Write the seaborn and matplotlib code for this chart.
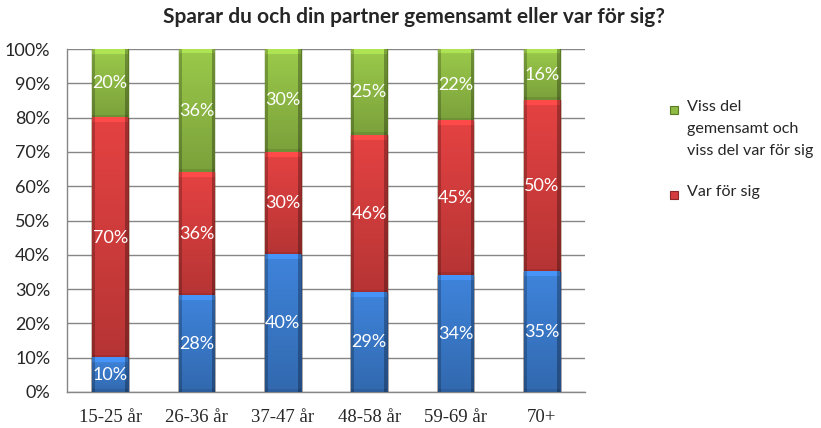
import matplotlib
matplotlib.use('Agg')
import matplotlib.pyplot as plt
import matplotlib.patches as mpatches
import matplotlib.colors as mcolors
import numpy as np
import pandas as pd
import seaborn as sns

# Data (shares, per age group)
age_groups = ['15-25 år', '26-36 år', '37-47 år', '48-58 år', '59-69 år', '70+']
gemensamt = [10, 28, 40, 29, 34, 35]
var_for_sig = [70, 36, 30, 46, 45, 50]
viss_del = [20, 36, 30, 25, 22, 16]

series_names = ['Gemensamt', 'Var för sig',
                'Viss del\ngemensamt och\nviss del var för sig']
colors = ['#3a7acb', '#d43d3d', '#8fbb45']
edge_colors = ['#244f8c', '#8c2626', '#5a7a24']

df = pd.DataFrame({'age': age_groups,
                   'g': gemensamt, 'v': var_for_sig, 'd': viss_del})
df['c1'] = df['g']
df['c2'] = df['g'] + df['v']
df['c3'] = df['c2'] + df['d']

sns.set_style('white')
plt.rcParams['font.family'] = ['Lato', 'DejaVu Sans']

W, H = 821, 428
fig = plt.figure(figsize=(W / 100, H / 100), dpi=100)
ax = fig.add_axes([67 / W, 1 - 392 / H, (585 - 67) / W, (392 - 49) / H])

layers = [('c3', 2), ('c2', 1), ('c1', 0)]
# draw stacked bars from the top layer down
for col, k in layers:
    sns.barplot(data=df, x='age', y=col, color=colors[k], width=0.41,
                saturation=1, edgecolor=edge_colors[k], linewidth=1,
                ax=ax, zorder=3)


def shade(color, height_units, px_per_unit=3.43):
    # simple bevel look: lighter top, darker bottom and sides
    ny = max(int(height_units * px_per_unit), 2)
    nx = 36
    rgb = np.array(mcolors.to_rgb(color))
    v = np.linspace(1.08, 0.86, ny)
    v[:min(5, ny)] = 1.22
    v[-min(3, ny):] = 0.78
    h = np.ones(nx)
    h[:3] = 0.78
    h[-3:] = 0.72
    fac = v[:, None] * h[None, :]
    img = np.clip(rgb[None, None, :] * fac[:, :, None], 0, 1)
    return img


# overlay shading on each visible segment, using the bar geometry
n = len(age_groups)
groups = [ax.patches[i * n:(i + 1) * n] for i in range(3)]  # green, red, blue
for li, (col, k) in enumerate(layers):
    for i, p in enumerate(groups[li]):
        top = min(p.get_height(), 100)
        bottom = groups[li + 1][i].get_height() if li < 2 else 0
        x0 = p.get_x()
        ax.imshow(shade(colors[k], top - bottom),
                  extent=(x0, x0 + p.get_width(), bottom, top),
                  aspect='auto', zorder=3.5, interpolation='bilinear')

# value labels
for i in range(n):
    bottom = 0
    for val in (gemensamt[i], var_for_sig[i], viss_del[i]):
        mid = bottom + val / 2
        if bottom + val > 100:
            mid = (bottom + 100) / 2
        ax.text(i, mid, f'{val}%', ha='center', va='center',
                color='white', fontsize=13, zorder=5)
        bottom += val

ax.set_ylim(0, 100)
ax.set_xlim(-0.5, 5.5)
ax.set_yticks(range(0, 101, 10))
ax.set_yticklabels([f'{v}%' for v in range(0, 101, 10)], fontsize=13)
ax.set_xlabel('')
ax.set_ylabel('')
ax.yaxis.grid(True, color='#868686', linewidth=1, zorder=0)
ax.set_axisbelow(True)
for lab in ax.get_xticklabels():
    lab.set_fontfamily('Liberation Serif')
    lab.set_fontsize(13.5)
ax.tick_params(axis='x', pad=12, length=0)
ax.tick_params(axis='y', pad=12, length=0)
for side in ['top', 'right']:
    ax.spines[side].set_visible(False)
for side in ['left', 'bottom']:
    ax.spines[side].set_color('#868686')
    ax.spines[side].set_linewidth(1)

fig.text(414 / W, 1 - 17 / H, 'Sparar du och din partner gemensamt eller var för sig?',
         ha='center', va='center', fontsize=15, fontweight='bold')

# legend (only the two entries visible in the reference)
for k, ytop, label in [(2, 100, series_names[2]), (1, 185, series_names[1])]:
    fig.patches.append(mpatches.Rectangle(
        (670 / W, 1 - (ytop + 14) / H), 8 / W, 8 / H, transform=fig.transFigure,
        facecolor=colors[k], edgecolor=edge_colors[k], linewidth=0.8))
    fig.text(687 / W, 1 - ytop / H, label, ha='left', va='top',
             fontsize=11.6, linespacing=1.75)

fig.savefig('out.png', dpi=100)
